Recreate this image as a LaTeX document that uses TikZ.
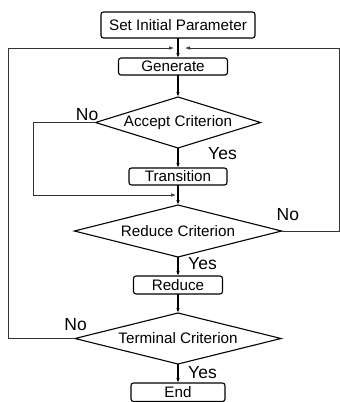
\documentclass[tikz,border=0pt]{standalone}
\usepackage{fontspec}
\setmainfont{Liberation Sans}
\usetikzlibrary{positioning,shapes.geometric,arrows.meta,calc}

\begin{document}
\begin{tikzpicture}[
      x=1pt, y=1pt,
      font=\fontsize{15.2}{17}\selectfont,
      box/.style={draw, rectangle, rounded corners=2.5pt, line width=1.1pt,
        inner sep=0pt, outer sep=0pt, align=center},
      decision/.style={draw, diamond, line width=1.1pt, inner sep=0pt,
        outer sep=0pt, shape aspect=3.2},
      lbl/.style={inner sep=0pt, font=\fontsize{17.5}{19}\selectfont},
      flow/.style={line width=1.1pt, -{Latex[length=5pt,width=3.5pt]}},
      back/.style={line width=0.7pt, draw=black!80, -{Latex[length=5pt,width=3.5pt]}},
      plain/.style={line width=0.7pt, draw=black!80}
    ]
      \useasboundingbox (0,0) rectangle (340,-402);

      \node[box, minimum width=154pt, minimum height=26pt] (set) at (178,-25) {Set Initial Parameter};
      \node[box, minimum width=109pt, minimum height=17pt, below=20pt of set, xshift=-5pt] (gen) {Generate};
      \node[decision, minimum width=165pt, minimum height=51pt, below=22pt of gen, xshift=5pt] (acc) {Accept Criterion};
      \node[box, minimum width=98pt, minimum height=17pt, below=20pt of acc] (trans) {Transition};
      \node[decision, minimum width=207pt, minimum height=52pt, below=20pt of trans] (red) {Reduce Criterion};
      \node[box, minimum width=89pt, minimum height=18pt, below=19pt of red] (reduce) {Reduce};
      \node[decision, minimum width=206pt, minimum height=51pt, below=19pt of reduce] (term) {Terminal Criterion};
      \node[box, minimum width=94pt, minimum height=18.5pt, below=19pt of term] (end) {End};

      % labels
      \node[lbl, anchor=east] (no1) at ([xshift=3pt,yshift=8pt]acc.west) {No};
      \node[lbl, anchor=west] (yes1) at ([xshift=30pt,yshift=-6pt]acc.south) {Yes};
      \node[lbl, anchor=west] (no2) at ([xshift=-5pt,yshift=16pt]red.east) {No};
      \node[lbl, anchor=west] (yes2) at ([xshift=10pt,yshift=-7pt]red.south) {Yes};
      \node[lbl, anchor=east] (no3) at ([xshift=12pt,yshift=14pt]term.west) {No};
      \node[lbl, anchor=west] (yes3) at ([xshift=10pt,yshift=-9pt]term.south) {Yes};

      \coordinate (join) at ($(set.south)!0.5!(set.south |- gen.north)$);
      \coordinate (join2) at ($(trans.south)!0.5!(red.north)$);
      \coordinate (lft) at (8,0);
      \coordinate (inl) at (33,0);
      \coordinate (rgt) at (339.5,0);

      % main flow
      \draw[flow] (set.south) -- (set.south |- gen.north);
      \draw[flow] (acc.north |- gen.south) -- (acc.north);
      \draw[flow] (acc.south) -- (trans.north);
      \draw[flow] (trans.south) -- (red.north);
      \draw[flow] (red.south) -- (reduce.north);
      \draw[flow] (reduce.south) -- (term.north);
      \draw[flow] (term.south) -- (end.north);

      % loops back
      \draw[back] (acc.west) -- (acc.west -| inl) |- ([xshift=-2pt]join2);
      \draw[back] (term.west) -- (term.west -| lft) |- ([xshift=-4pt]join);
      \draw[back] (red.east) -- (red.east -| rgt) |- ([xshift=7pt]join);
  \end{tikzpicture}
\end{document}
